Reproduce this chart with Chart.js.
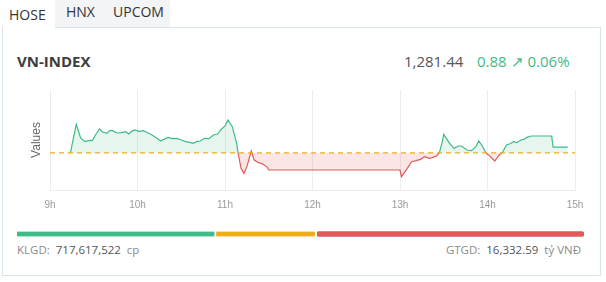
<!DOCTYPE html>
<html>
<head>
<meta charset="utf-8">
<script src="https://cdn.jsdelivr.net/npm/chart.js@4/dist/chart.umd.min.js"></script>
<style>
  body { margin: 0; width: 606px; height: 282px; background: #fff; position: relative; overflow: hidden; font-family: 'Open Sans', sans-serif; }
  .abs { position: absolute; white-space: nowrap; }
  .tabs-bg { left: 55px; top: 0; width: 115px; height: 27px; background: #f3f4f5; }
  .card { left: 2px; top: 27px; width: 599px; height: 249px; border: 1px solid #d5e5ea; box-sizing: border-box; }
  .tab-on { left: 3px; top: 0; width: 52px; height: 29px; background: #fff; }
  .tab { font-size: 14px; color: #333; }
  .title { left: 17px; top: 51px; font-size: 15px; font-weight: bold; color: #3d3d3d; }
  .price { left: 404px; top: 51px; font-size: 15px; color: #555; }
  .change { left: 477px; top: 51px; font-size: 15px; color: #3dbb87; }
  .foot { top: 242px; font-size: 11.5px; color: #8a8a8a; }
  .foot b { font-weight: normal; color: #555; }
</style>
</head>
<body>
<div class="abs tabs-bg"></div>
<div class="abs card"></div>
<div class="abs tab-on"></div>
<div class="abs tab" style="left:9px;top:5px;">HOSE</div>
<div class="abs tab" style="left:66px;top:2px;">HNX</div>
<div class="abs tab" style="left:113px;top:2px;">UPCOM</div>
<div class="abs title">VN-INDEX</div>
<div class="abs price">1,281.44</div>
<div class="abs change">0.88 &#8599; 0.06%</div>
<div class="abs" style="left:0;top:80px;"><canvas id="lineChart" width="606" height="140"></canvas></div>
<div class="abs" style="left:17px;top:228px;"><canvas id="breadthChart" width="567" height="12"></canvas></div>
<div class="abs foot" style="left:17px;">KLGD:&nbsp; <b>717,617,522</b>&nbsp; cp</div>
<div class="abs foot" style="right:25px;">GTGD:&nbsp; <b>16,332.59</b>&nbsp; tỷ VNĐ</div>

<script>
var refValue = 1280.56;

var times = ["9:00", "9:14", "9:18", "9:21", "9:24", "9:27", "9:29", "9:32", "9:34", "9:36",
    "9:39", "9:41", "9:43", "9:46", "9:49", "9:52", "9:54", "9:56", "9:58", "10:01",
    "10:04", "10:07", "10:10", "10:13", "10:16", "10:18", "10:21", "10:24", "10:27", "10:30",
    "10:33", "10:36", "10:38", "10:41", "10:43", "10:46", "10:49", "10:52", "10:55", "10:57",
    "11:00", "11:02", "11:05", "11:08", "11:09", "11:11", "11:13", "11:15", "11:18", "11:20",
    "11:23", "11:26", "11:29", "11:30", "13:00", "13:01", "13:05", "13:08", "13:11", "13:14",
    "13:17", "13:20", "13:22", "13:25", "13:27", "13:29", "13:30", "13:34", "13:37", "13:40",
    "13:42", "13:46", "13:49", "13:52", "13:54", "13:56", "13:59", "14:02", "14:05", "14:08",
    "14:10", "14:13", "14:15", "14:18", "14:20", "14:23", "14:25", "14:27", "14:30", "14:44",
    "14:45", "14:55"];

var indexValues = [1280.56, 1280.56, 1284.86, 1282.8, 1282.25, 1282.45, 1282.4, 1283.55, 1284.15, 1283.7,
    1283.5, 1283.95, 1283.9, 1283.55, 1283.6, 1283.75, 1283.4, 1283.8, 1284.0, 1283.8,
    1283.9, 1283.6, 1283.25, 1282.8, 1282.35, 1282.6, 1282.9, 1282.7, 1282.75, 1282.5,
    1282.25, 1282.15, 1282.0, 1282.3, 1282.35, 1282.75, 1282.7, 1283.25, 1283.4, 1284.0,
    1284.6, 1285.5, 1284.5, 1282.0, 1280.56, 1278.25, 1277.5, 1278.5, 1280.85, 1279.5,
    1279.1, 1278.9, 1278.4, 1278.0, 1278.0, 1277.0, 1278.25, 1279.25, 1279.4, 1279.6,
    1280.0, 1279.75, 1279.85, 1280.1, 1280.56, 1282.25, 1283.35, 1282.0, 1281.25, 1281.6,
    1281.6, 1281.0, 1280.9, 1281.5, 1282.35, 1281.75, 1280.56, 1280.0, 1279.35, 1280.25,
    1280.56, 1281.75, 1281.9, 1282.25, 1282.1, 1282.5, 1282.6, 1282.9, 1283.1, 1283.1,
    1281.44, 1281.44];

var hourLabels = ["9h", "10h", "11h", "12h", "13h", "14h", "15h"];

var breadthLabels = ["Tăng", "Đứng giá", "Giảm"];
var breadthValues = [198, 100, 266];

var GREEN = "#3dbb87", RED = "#e05a5a", AMBER = "#f0ad1a";

function toHours(t) {
    var p = t.split(":");
    return parseInt(p[0], 10) + parseInt(p[1], 10) / 60;
}

var points = [];
for (var i = 0; i < times.length; ++i) {
    points.push({ x: toHours(times[i]), y: indexValues[i] });
}
var refPoints = [{ x: 9, y: refValue }, { x: 15, y: refValue }];

function segColor(ctx) {
    var a = ctx.p0.parsed.y, b = ctx.p1.parsed.y;
    if (a === refValue && b === refValue) return "rgba(0,0,0,0)";
    if (a >= refValue && b >= refValue) return GREEN;
    return RED;
}

new Chart(document.getElementById("lineChart"), {
    type: "line",
    data: {
        datasets: [
            {
                label: "VN-INDEX",
                data: points,
                borderWidth: 1.2,
                pointRadius: 0,
                tension: 0,
                segment: { borderColor: segColor },
                borderColor: GREEN,
                fill: { target: { value: refValue }, above: "rgba(61,187,135,0.13)", below: "rgba(230,80,80,0.15)" },
                order: 2
            },
            {
                label: "Tham chiếu",
                data: refPoints,
                borderColor: AMBER,
                borderWidth: 1.2,
                borderDash: [5, 4],
                pointRadius: 0,
                fill: false,
                order: 1
            }
        ]
    },
    options: {
        responsive: false,
        animation: false,
        devicePixelRatio: 1,
        layout: { padding: { left: 0, right: 31, top: 10, bottom: 0 } },
        plugins: { legend: { display: false }, tooltip: { enabled: false } },
        scales: {
            x: {
                type: "linear",
                min: 9,
                max: 15,
                afterFit: function (s) { s.height = 30; },
                grid: { color: "#ededed", drawTicks: false },
                border: { color: "#ededed" },
                ticks: {
                    stepSize: 1,
                    padding: 9,
                    color: "#9a9a9a",
                    font: { size: 10 },
                    callback: function (v) { return hourLabels[v - 9]; }
                }
            },
            y: {
                min: 1275,
                max: 1290,
                afterFit: function (s) { s.width = 50; },
                grid: { display: false },
                border: { display: false },
                ticks: { display: false },
                title: { display: true, text: "Values", color: "#666", font: { size: 12 }, padding: { top: 29, bottom: 0 } }
            }
        }
    }
});

var breadthColors = [GREEN, AMBER, RED];
var breadthSets = [];
for (var j = 0; j < breadthValues.length; ++j) {
    breadthSets.push({
        label: breadthLabels[j],
        data: [breadthValues[j]],
        backgroundColor: breadthColors[j],
        borderColor: "#fff",
        borderWidth: j < breadthValues.length - 1 ? { right: 2 } : 0,
        borderSkipped: false,
        borderRadius: 3,
        barThickness: 5
    });
}

new Chart(document.getElementById("breadthChart"), {
    type: "bar",
    data: { labels: [""], datasets: breadthSets },
    options: {
        indexAxis: "y",
        responsive: false,
        animation: false,
        devicePixelRatio: 1,
        layout: { padding: 0 },
        plugins: { legend: { display: false }, tooltip: { enabled: false } },
        scales: {
            x: { stacked: true, display: false, min: 0, max: breadthValues[0] + breadthValues[1] + breadthValues[2] },
            y: { stacked: true, display: false }
        }
    }
});
</script>
</body>
</html>
